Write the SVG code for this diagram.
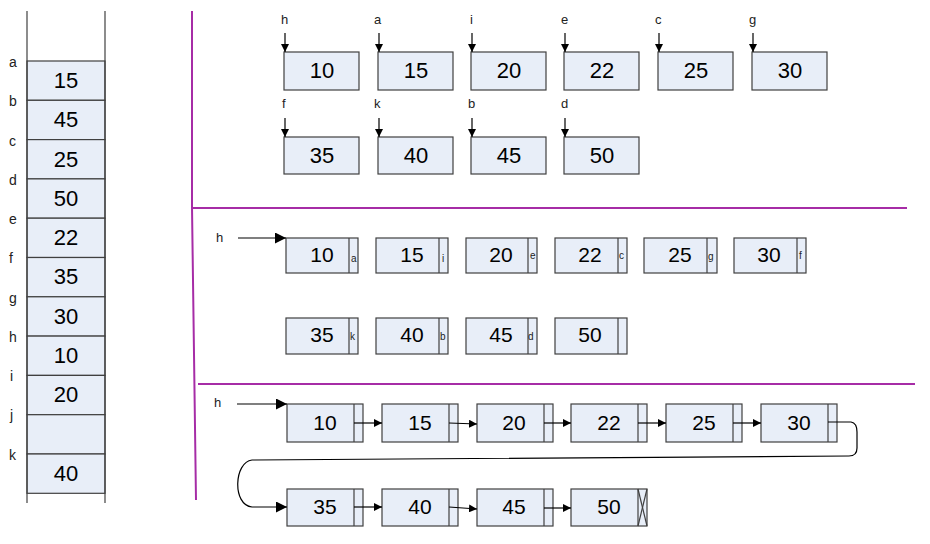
<svg xmlns="http://www.w3.org/2000/svg" width="930" height="544" viewBox="0 0 930 544">
<defs>
<style>
.bg{fill:#ffffff}
.cell{fill:#E8EEF8;stroke:#404040;stroke-width:1.2}
.ln{stroke:#404040;stroke-width:1.2;fill:none}
.pl{stroke:#A62CA6;stroke-width:2;fill:none}
.num{font-family:"Liberation Sans",Arial,sans-serif;font-size:22px;fill:#000;text-anchor:middle}
.num2{font-family:"Liberation Sans",Arial,sans-serif;font-size:21px;fill:#000;text-anchor:middle}
.lbl{font-family:"Liberation Sans",Arial,sans-serif;font-size:14px;fill:#222}
.sl{font-family:"Liberation Sans",Arial,sans-serif;font-size:13px;fill:#222}
.pt{font-family:"Liberation Sans",Arial,sans-serif;font-size:10px;fill:#222}
.ar{stroke:#000;stroke-width:1.2;fill:none}
</style>
<marker id="ah" viewBox="0 0 10 10" refX="10" refY="5" markerWidth="9" markerHeight="9" markerUnits="userSpaceOnUse" orient="auto"><path d="M0,0 L10,5 L0,10 Z" fill="#000"/></marker>
<marker id="ahs" viewBox="0 0 10 10" refX="10" refY="5" markerWidth="8" markerHeight="8" markerUnits="userSpaceOnUse" orient="auto"><path d="M0,0 L10,5 L0,10 Z" fill="#000"/></marker>
<marker id="ahb" viewBox="0 0 10 10" refX="10" refY="5" markerWidth="11" markerHeight="11" markerUnits="userSpaceOnUse" orient="auto"><path d="M0,0 L10,5 L0,10 Z" fill="#000"/></marker>
</defs>
<rect class="bg" x="0" y="0" width="930" height="544"/>

<!-- Left array -->
<g id="array">
<rect class="cell" x="27" y="61" width="78" height="39.3"/>
<rect class="cell" x="27" y="100.3" width="78" height="39.3"/>
<rect class="cell" x="27" y="139.6" width="78" height="39.3"/>
<rect class="cell" x="27" y="178.9" width="78" height="39.3"/>
<rect class="cell" x="27" y="218.2" width="78" height="39.3"/>
<rect class="cell" x="27" y="257.5" width="78" height="39.3"/>
<rect class="cell" x="27" y="296.8" width="78" height="39.3"/>
<rect class="cell" x="27" y="336.1" width="78" height="39.3"/>
<rect class="cell" x="27" y="375.4" width="78" height="39.3"/>
<rect class="cell" x="27" y="414.7" width="78" height="39.3"/>
<rect class="cell" x="27" y="454" width="78" height="39.3"/>
<line class="ln" x1="27" y1="11" x2="27" y2="503"/>
<line class="ln" x1="105" y1="11" x2="105" y2="503"/>
<text class="num" x="66" y="88">15</text>
<text class="num" x="66" y="127">45</text>
<text class="num" x="66" y="167">25</text>
<text class="num" x="66" y="206">50</text>
<text class="num" x="66" y="245">22</text>
<text class="num" x="66" y="284">35</text>
<text class="num" x="66" y="324">30</text>
<text class="num" x="66" y="363">10</text>
<text class="num" x="66" y="402">20</text>
<text class="num" x="66" y="481">40</text>
<text class="lbl" x="9" y="67">a</text>
<text class="lbl" x="9" y="106">b</text>
<text class="lbl" x="9" y="146">c</text>
<text class="lbl" x="9" y="185">d</text>
<text class="lbl" x="9" y="224">e</text>
<text class="lbl" x="9" y="263">f</text>
<text class="lbl" x="9" y="303">g</text>
<text class="lbl" x="9" y="342">h</text>
<text class="lbl" x="10" y="381">i</text>
<text class="lbl" x="10" y="420">j</text>
<text class="lbl" x="9" y="460">k</text>
</g>

<!-- Separators -->
<g id="separators">
<path class="pl" d="M192 11 L192 207 L196 500"/>
<line class="pl" x1="192" y1="208" x2="907" y2="208"/>
<line class="pl" x1="198" y1="384" x2="915" y2="384"/>
</g>

<!-- Top section nodes -->
<g id="top-10"><rect class="cell" x="284" y="52" width="75" height="38"/><text class="num" x="322" y="78">10</text><text class="sl" x="281" y="24">h</text></g>
<g id="top-15"><rect class="cell" x="378" y="52" width="75" height="38"/><text class="num" x="416" y="78">15</text><text class="sl" x="374" y="24">a</text></g>
<g id="top-20"><rect class="cell" x="471" y="52" width="75" height="38"/><text class="num" x="509" y="78">20</text><text class="sl" x="470" y="24">i</text></g>
<g id="top-22"><rect class="cell" x="564" y="52" width="75" height="38"/><text class="num" x="602" y="78">22</text><text class="sl" x="561" y="24">e</text></g>
<g id="top-25"><rect class="cell" x="658" y="52" width="75" height="38"/><text class="num" x="696" y="78">25</text><text class="sl" x="655" y="24">c</text></g>
<g id="top-30"><rect class="cell" x="752" y="52" width="75" height="38"/><text class="num" x="790" y="78">30</text><text class="sl" x="749" y="24">g</text></g>
<g id="top-35"><rect class="cell" x="284" y="137" width="75" height="37"/><text class="num" x="322" y="163">35</text><text class="sl" x="282" y="108">f</text></g>
<g id="top-40"><rect class="cell" x="378" y="137" width="75" height="37"/><text class="num" x="416" y="163">40</text><text class="sl" x="374" y="108">k</text></g>
<g id="top-45"><rect class="cell" x="471" y="137" width="75" height="37"/><text class="num" x="509" y="163">45</text><text class="sl" x="468" y="108">b</text></g>
<g id="top-50"><rect class="cell" x="564" y="137" width="75" height="37"/><text class="num" x="602" y="163">50</text><text class="sl" x="561" y="108">d</text></g>

<!-- Middle section nodes -->
<g id="mid-h"><text class="sl" x="216" y="242">h</text></g>
<g id="mid-10"><rect class="cell" x="286" y="238" width="72" height="35"/><line class="ln" x1="349" y1="238" x2="349" y2="273"/><text class="num2" x="322" y="262">10</text><text class="pt" x="351" y="262">a</text></g>
<g id="mid-15"><rect class="cell" x="376" y="238" width="72" height="35"/><line class="ln" x1="439" y1="238" x2="439" y2="273"/><text class="num2" x="412" y="262">15</text><text class="pt" x="442" y="262">i</text></g>
<g id="mid-20"><rect class="cell" x="466" y="238" width="71" height="35"/><line class="ln" x1="528" y1="238" x2="528" y2="273"/><text class="num2" x="501" y="262">20</text><text class="pt" x="530" y="259">e</text></g>
<g id="mid-22"><rect class="cell" x="555" y="238" width="72" height="35"/><line class="ln" x1="618" y1="238" x2="618" y2="273"/><text class="num2" x="590" y="262">22</text><text class="pt" x="619" y="259">c</text></g>
<g id="mid-25"><rect class="cell" x="644" y="238" width="73" height="35"/><line class="ln" x1="707" y1="238" x2="707" y2="273"/><text class="num2" x="680" y="262">25</text><text class="pt" x="708" y="260">g</text></g>
<g id="mid-30"><rect class="cell" x="734" y="238" width="72" height="35"/><line class="ln" x1="797" y1="238" x2="797" y2="273"/><text class="num2" x="769" y="262">30</text><text class="pt" x="799" y="259">f</text></g>
<g id="mid-35"><rect class="cell" x="286" y="318" width="72" height="36"/><line class="ln" x1="349" y1="318" x2="349" y2="354"/><text class="num2" x="322" y="342">35</text><text class="pt" x="350" y="340">k</text></g>
<g id="mid-40"><rect class="cell" x="376" y="318" width="72" height="36"/><line class="ln" x1="439" y1="318" x2="439" y2="354"/><text class="num2" x="412" y="342">40</text><text class="pt" x="440" y="340">b</text></g>
<g id="mid-45"><rect class="cell" x="466" y="318" width="71" height="36"/><line class="ln" x1="528" y1="318" x2="528" y2="354"/><text class="num2" x="501" y="342">45</text><text class="pt" x="528" y="340">d</text></g>
<g id="mid-50"><rect class="cell" x="555" y="318" width="72" height="36"/><line class="ln" x1="618" y1="318" x2="618" y2="354"/><text class="num2" x="590" y="342">50</text></g>

<!-- Bottom section nodes -->
<g id="bot-h"><text class="sl" x="214" y="407">h</text></g>
<g id="bot-10"><rect class="cell" x="287" y="404" width="76" height="38"/><line class="ln" x1="354" y1="404" x2="354" y2="442"/><text class="num2" x="325" y="430">10</text></g>
<g id="bot-15"><rect class="cell" x="382" y="404" width="76" height="38"/><line class="ln" x1="449" y1="404" x2="449" y2="442"/><text class="num2" x="420" y="430">15</text></g>
<g id="bot-20"><rect class="cell" x="477" y="404" width="76" height="38"/><line class="ln" x1="544" y1="404" x2="544" y2="442"/><text class="num2" x="514" y="430">20</text></g>
<g id="bot-22"><rect class="cell" x="571" y="404" width="76" height="38"/><line class="ln" x1="638" y1="404" x2="638" y2="442"/><text class="num2" x="609" y="430">22</text></g>
<g id="bot-25"><rect class="cell" x="666" y="404" width="76" height="38"/><line class="ln" x1="733" y1="404" x2="733" y2="442"/><text class="num2" x="704" y="430">25</text></g>
<g id="bot-30"><rect class="cell" x="761" y="404" width="76" height="38"/><line class="ln" x1="828" y1="404" x2="828" y2="442"/><text class="num2" x="799" y="430">30</text></g>
<g id="bot-35"><rect class="cell" x="287" y="489" width="76" height="37"/><line class="ln" x1="354" y1="489" x2="354" y2="526"/><text class="num2" x="325" y="514">35</text></g>
<g id="bot-40"><rect class="cell" x="382" y="489" width="76" height="37"/><line class="ln" x1="449" y1="489" x2="449" y2="526"/><text class="num2" x="420" y="514">40</text></g>
<g id="bot-45"><rect class="cell" x="477" y="489" width="76" height="37"/><line class="ln" x1="544" y1="489" x2="544" y2="526"/><text class="num2" x="514" y="514">45</text></g>
<g id="bot-50"><rect class="cell" x="571" y="489" width="76" height="37"/><line class="ln" x1="638" y1="489" x2="638" y2="526"/><line class="ln" x1="638" y1="489" x2="647" y2="526"/><line class="ln" x1="647" y1="489" x2="638" y2="526"/><text class="num2" x="609" y="514">50</text></g>

<!-- Connectors -->
<g id="connectors">
<line class="ar" x1="285" y1="33" x2="285" y2="52" marker-end="url(#ahs)"/>
<line class="ar" x1="379" y1="33" x2="379" y2="52" marker-end="url(#ahs)"/>
<line class="ar" x1="472" y1="33" x2="472" y2="52" marker-end="url(#ahs)"/>
<line class="ar" x1="565" y1="33" x2="565" y2="52" marker-end="url(#ahs)"/>
<line class="ar" x1="659" y1="33" x2="659" y2="52" marker-end="url(#ahs)"/>
<line class="ar" x1="753" y1="33" x2="753" y2="52" marker-end="url(#ahs)"/>
<line class="ar" x1="285" y1="118" x2="285" y2="137" marker-end="url(#ahs)"/>
<line class="ar" x1="379" y1="118" x2="379" y2="137" marker-end="url(#ahs)"/>
<line class="ar" x1="472" y1="118" x2="472" y2="137" marker-end="url(#ahs)"/>
<line class="ar" x1="565" y1="118" x2="565" y2="137" marker-end="url(#ahs)"/>
<line class="ar" x1="238" y1="238" x2="286" y2="238" marker-end="url(#ahb)"/>
<line class="ar" x1="237" y1="404" x2="287" y2="404" marker-end="url(#ahb)"/>
<line class="ar" x1="354" y1="423" x2="382" y2="423" marker-end="url(#ahs)"/>
<line class="ar" x1="449" y1="423" x2="477" y2="424" marker-end="url(#ahs)"/>
<line class="ar" x1="544" y1="423" x2="571" y2="423" marker-end="url(#ahs)"/>
<line class="ar" x1="638" y1="423" x2="666" y2="423" marker-end="url(#ahs)"/>
<line class="ar" x1="733" y1="423" x2="761" y2="423" marker-end="url(#ahs)"/>
<path class="ar" d="M828 422 L851 422 Q857 423 857 432 L857 448 Q857 456 849 456 L252 460 C234 462 232 505 252 507 L287 507" marker-end="url(#ahb)"/>
<line class="ar" x1="354" y1="507" x2="382" y2="507" marker-end="url(#ahs)"/>
<line class="ar" x1="449" y1="507" x2="477" y2="509" marker-end="url(#ahs)"/>
<line class="ar" x1="544" y1="508" x2="571" y2="508" marker-end="url(#ahs)"/>
</g>
</svg>
